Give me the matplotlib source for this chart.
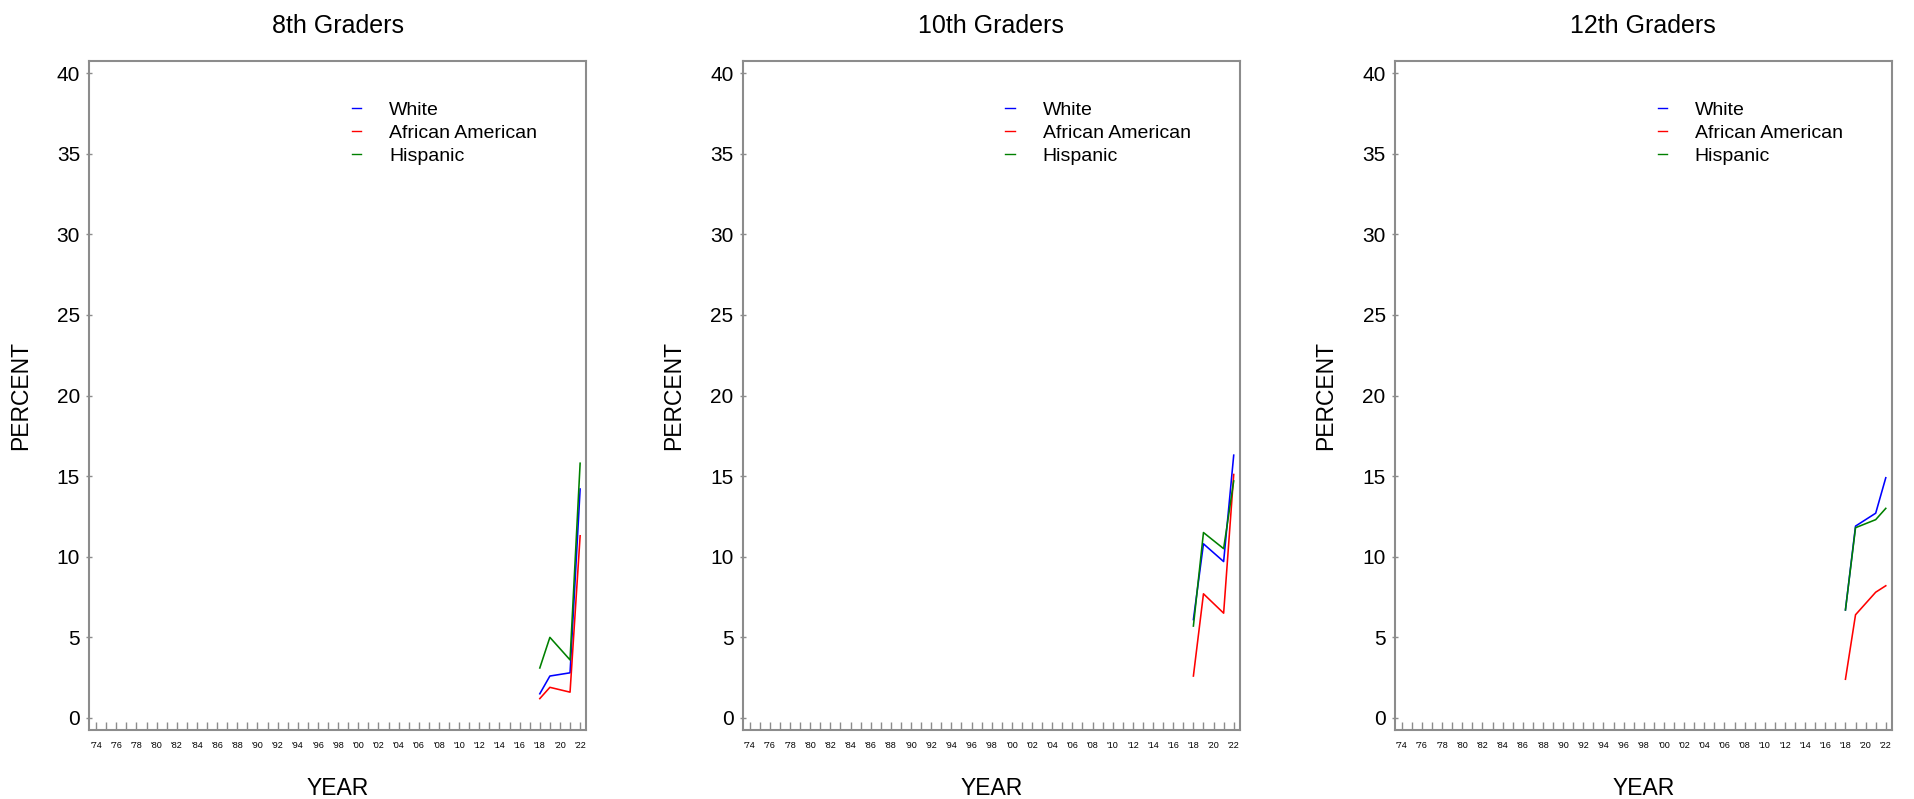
"""Three-panel trend chart: percent by race/ethnicity, 8th/10th/12th graders."""

import matplotlib

matplotlib.use("Agg")
import matplotlib.pyplot as plt  # noqa: E402

plt.rcParams["font.family"] = ["Liberation Sans", "DejaVu Sans"]

years = [2018, 2019, 2021, 2022]
grades = ["8th Graders", "10th Graders", "12th Graders"]
groups = ["White", "African American", "Hispanic"]
colors = ["#0000ff", "#ff0000", "#008000"]

white = [
    [1.5, 2.6, 2.8, 14.2],
    [6.1, 10.8, 9.7, 16.3],
    [6.7, 11.9, 12.7, 14.9],
]
african_american = [
    [1.2, 1.9, 1.6, 11.3],
    [2.6, 7.7, 6.5, 15.1],
    [2.4, 6.4, 7.8, 8.2],
]
hispanic = [
    [3.1, 5.0, 3.6, 15.8],
    [5.7, 11.5, 10.5, 14.7],
    [6.7, 11.8, 12.3, 13.0],
]

tick_years = list(range(1974, 2023))
label_years = list(range(1974, 2023, 2))
y_ticks = list(range(0, 41, 5))

fig = plt.figure(figsize=(19.15, 7.99), dpi=100)
lefts = [0.0465, 0.3878, 0.7283]
spine_grey = "#8c8c8c"

for i, (grade, left) in enumerate(zip(grades, lefts)):
    ax = fig.add_axes([left, 0.0863, 0.2596, 0.8374])
    for name, series, c in zip(groups, [white, african_american, hispanic], colors):
        ax.plot(years, series[i], color=c, lw=1.15, label=name)

    ax.set_xlim(1973.3, 2022.6)
    ax.set_ylim(-0.75, 40.75)
    ax.set_xticks(tick_years)
    ax.set_xticklabels(["'%02d" % (y % 100) if y in label_years else "" for y in tick_years],
                       fontsize=6.5)
    ax.set_yticks(y_ticks)
    ax.set_yticklabels([str(v) for v in y_ticks], fontsize=15)
    ax.tick_params(axis="x", direction="in", length=6, width=1, color=spine_grey, pad=8)
    ax.tick_params(axis="y", direction="inout", length=5, width=1, color=spine_grey, pad=4)
    for sp in ax.spines.values():
        sp.set_color(spine_grey)
        sp.set_linewidth(1.5)

    ax.set_title(grade, fontsize=18, pad=20)
    ax.set_xlabel("YEAR", fontsize=16.5, labelpad=19)
    ax.set_ylabel("PERCENT", fontsize=16.5, labelpad=18)

    leg = ax.legend(loc="upper left", bbox_to_anchor=(0.513, 0.951), frameon=False,
                    fontsize=14, handlelength=0.47, handletextpad=1.45,
                    labelspacing=0.28, borderaxespad=0)
    for line in leg.get_lines():
        line.set_linewidth(1.0)

fig.savefig("out.png", dpi=100)
